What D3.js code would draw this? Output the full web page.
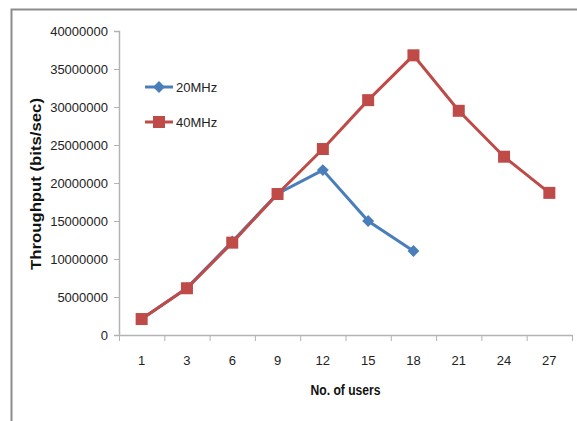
<!DOCTYPE html>
<html><head><meta charset="utf-8">
<script src="https://cdn.jsdelivr.net/npm/d3@7"></script>
<style>body{margin:0;background:#fff}svg{display:block}</style>
</head><body>
<script>
const categories = ["1","3","6","9","12","15","18","21","24","27"];
const series20 = [2100000, 6200000, 12300000, 18600000, 21700000, 15000000, 11050000];
const series40 = [2100000, 6150000, 12150000, 18550000, 24470000, 30900000, 36800000, 29500000, 23460000, 18700000];
const yTicks = [0,5000000,10000000,15000000,20000000,25000000,30000000,35000000,40000000];
const seriesNames = ["20MHz","40MHz"];

const W=577,H=421;
const svg=d3.select("body").append("svg").attr("width",W).attr("height",H);
const font="'Liberation Sans',Arial,sans-serif";
// frame
svg.append("path").attr("d","M11.5,421 V9.5 H577").attr("fill","none").attr("stroke","#8c8c8c").attr("stroke-width",2);

const x=d3.scaleBand().domain(categories).range([119,572]);
const y=d3.scaleLinear().domain([0,40000000]).range([335,31]);

const axisColor="#b3b3b3";
// y axis
const ya=svg.append("g").attr("transform","translate(119,0)")
 .call(d3.axisLeft(y).tickValues(yTicks).tickSize(5).tickPadding(6).tickFormat(d3.format("d")));
// x axis
const xa=svg.append("g").attr("transform","translate(0,335)")
 .call(d3.axisBottom(x).tickSize(0).tickPadding(21));
// x ticks at band boundaries
const bounds=categories.map(c=>x(c)).concat([x.range()[1]]);
svg.append("g").selectAll("line").data(bounds).join("line")
 .attr("x1",d=>d+0.5).attr("x2",d=>d+0.5).attr("y1",335).attr("y2",341)
 .attr("stroke",axisColor);
[ya,xa].forEach(g=>{
  g.select(".domain").attr("stroke",axisColor).attr("stroke-width",1.5);
  g.selectAll(".tick line").attr("stroke",axisColor);
  g.selectAll(".tick text").attr("font-family",font).attr("font-size",13).attr("fill","#222");
});

const cx=(c)=>x(c)+x.bandwidth()/2;
const line=d3.line().x((d,i)=>cx(categories[i])).y(d=>y(d));
const blue="#4a7ebb", red="#be4b48";

// 20MHz
svg.append("path").datum(series20).attr("d",line).attr("fill","none").attr("stroke",blue).attr("stroke-width",3);
const diamond=d3.symbol().type(d3.symbolDiamond2).size(90);
svg.append("g").selectAll("path").data(series20).join("path")
 .attr("d",diamond).attr("transform",(d,i)=>`translate(${cx(categories[i])},${y(d)})`).attr("fill",blue);
// 40MHz
svg.append("path").datum(series40).attr("d",line).attr("fill","none").attr("stroke",red).attr("stroke-width",3);
svg.append("g").selectAll("rect").data(series40).join("rect")
 .attr("x",(d,i)=>cx(categories[i])-6).attr("y",d=>y(d)-6).attr("width",12).attr("height",12).attr("fill",red);

// legend
const leg=svg.append("g");
const legY=[87,122];
seriesNames.forEach((n,i)=>{
  const col=i?red:blue;
  leg.append("line").attr("x1",145).attr("x2",173).attr("y1",legY[i]).attr("y2",legY[i]).attr("stroke",col).attr("stroke-width",3);
  if(i) leg.append("rect").attr("x",153).attr("y",legY[i]-6).attr("width",12).attr("height",12).attr("fill",col);
  else leg.append("path").attr("d",diamond).attr("transform",`translate(159,${legY[i]})`).attr("fill",col);
  leg.append("text").attr("x",176).attr("y",legY[i]+5).text(n).attr("font-family",font).attr("font-size",13).attr("fill","#222");
});

// axis titles
svg.append("text").attr("x",345.5).attr("y",395).attr("text-anchor","middle")
 .attr("font-family",font).attr("font-weight","bold").attr("font-size",14).attr("fill","#111")
 .attr("textLength",70).attr("lengthAdjust","spacingAndGlyphs").text("No. of users");
svg.append("text").attr("transform","translate(41,184) rotate(-90)").attr("text-anchor","middle")
 .attr("font-family",font).attr("font-weight","bold").attr("font-size",14).attr("fill","#111")
 .attr("textLength",172).attr("lengthAdjust","spacingAndGlyphs").text("Throughput (bits/sec)");
</script>
</body></html>
